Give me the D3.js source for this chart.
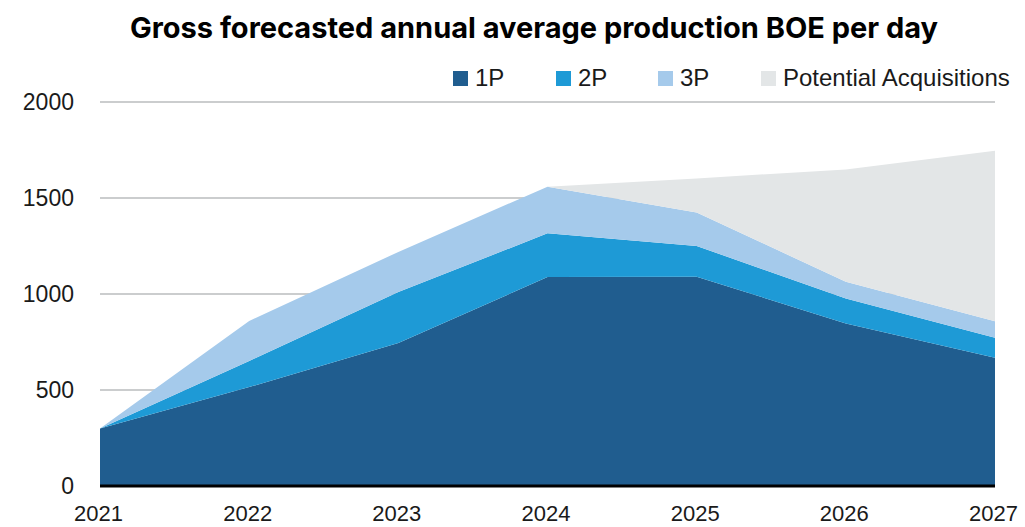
<!DOCTYPE html>
<html>
<head>
<meta charset="utf-8">
<script src="https://cdn.jsdelivr.net/npm/d3@7"></script>
<style>
  body { margin: 0; background: #fff; }
</style>
</head>
<body>
<div id="vis"></div>
<script>
// data (stacked increments)
var years = [2021, 2022, 2023, 2024, 2025, 2026, 2027];
var p1 = [300, 515, 745, 1088, 1090, 847, 668];
var p2 = [0, 136, 265, 228, 160, 130, 104];
var p3 = [0, 209, 209, 243, 174, 87, 86];
var acq = [0, 0, 0, 0, 178, 585, 888];
var seriesNames = ["1P", "2P", "3P", "Potential Acquisitions"];
var colors = ["#205d8f", "#1e9ad6", "#a5caeb", "#e3e6e7"];
var yTicks = [0, 500, 1000, 1500, 2000];

var w = 1025, h = 527;
var labelFont = "Liberation Sans, Arial, sans-serif";

var rows = years.map((y, i) => ({year: y, "1P": p1[i], "2P": p2[i], "3P": p3[i], "Potential Acquisitions": acq[i]}));
var stacked = d3.stack().keys(seriesNames)(rows);

var svg = d3.select("#vis").append("svg")
  .attr("width", w).attr("height", h);

var x = d3.scaleLinear().domain([2021, 2027]).range([100, 995]);
var y = d3.scaleLinear().domain([0, 2000]).range([486, 102]);

// gridlines
svg.append("g").selectAll("line")
  .data(yTicks.filter(d => d > 0))
  .enter().append("line")
  .attr("x1", 100).attr("x2", 995)
  .attr("y1", d => y(d)).attr("y2", d => y(d))
  .attr("stroke", "#cbcdce").attr("stroke-width", 2);

// areas
var area = d3.area()
  .x(d => x(d.data.year))
  .y0(d => y(d[0]))
  .y1(d => y(d[1]));

svg.append("g").selectAll("path")
  .data(stacked)
  .enter().append("path")
  .attr("d", area)
  .attr("fill", (d, i) => colors[i]);

// baseline
svg.append("line")
  .attr("x1", 100).attr("x2", 995)
  .attr("y1", y(0)).attr("y2", y(0))
  .attr("stroke", "#000").attr("stroke-width", 3);

// y axis labels
var yAxis = svg.append("g")
  .attr("transform", "translate(74,0)")
  .call(d3.axisLeft(y).tickValues(yTicks).tickFormat(d3.format("d")).tickSize(0).tickPadding(0));
yAxis.select(".domain").remove();
yAxis.selectAll("text").attr("font-size", 23).attr("fill", "#1a1a1a")
  .attr("font-family", labelFont);

// x axis labels
var xAxis = svg.append("g")
  .attr("transform", "translate(-2,0)")
  .call(d3.axisBottom(x).tickValues(years).tickFormat(d3.format("d")).tickSize(0).tickPadding(0));
xAxis.select(".domain").remove();
xAxis.selectAll("text").attr("font-size", 22).attr("fill", "#1a1a1a")
  .attr("font-family", labelFont)
  .attr("y", 521).attr("dy", 0);

// title
svg.append("text")
  .attr("x", 534).attr("y", 38)
  .attr("text-anchor", "middle")
  .attr("font-size", 29).attr("font-weight", "bold")
  .attr("font-family", "Inter, Roboto, sans-serif")
  .attr("fill", "#000")
  .text("Gross forecasted annual average production BOE per day");

// legend
var legX = [453, 556, 658, 761];
var leg = svg.append("g").selectAll("g")
  .data(seriesNames)
  .enter().append("g")
  .attr("transform", (d, i) => "translate(" + legX[i] + ",71)");
leg.append("rect").attr("width", 15).attr("height", 15)
  .attr("fill", (d, i) => colors[i]);
leg.append("text").attr("x", 22).attr("y", 15)
  .attr("font-size", 24).attr("fill", "#1a1a1a")
  .attr("font-family", labelFont)
  .text(d => d);
</script>
</body>
</html>
